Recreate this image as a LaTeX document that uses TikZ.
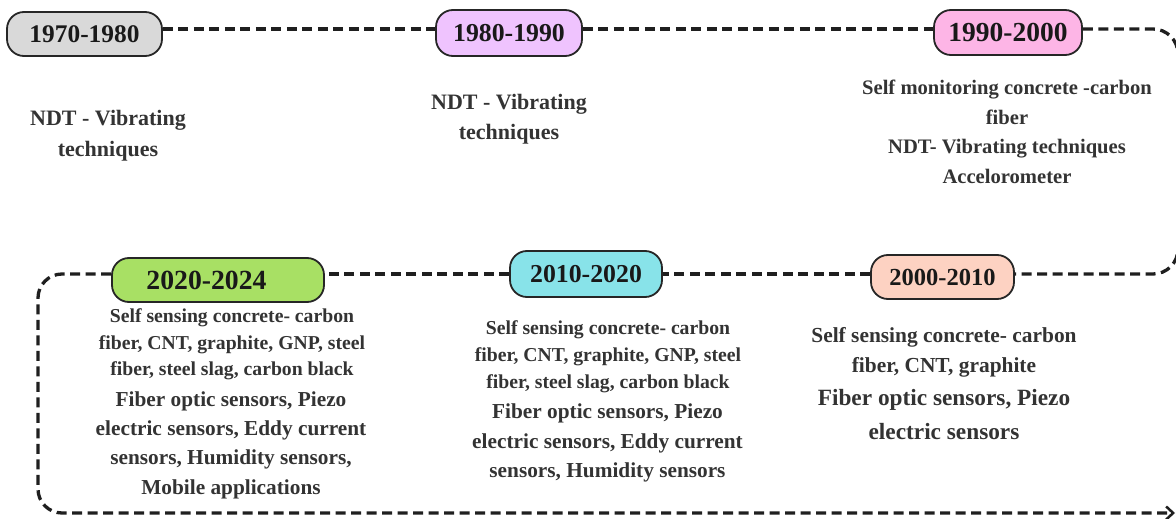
\documentclass[tikz,border=0pt]{standalone}
\usepackage{fontspec}
\setmainfont{Liberation Serif}
\usetikzlibrary{arrows.meta}
\definecolor{cgray}{HTML}{D9D9D9}
\definecolor{cviolet}{HTML}{EFC3FE}
\definecolor{cpink}{HTML}{FDB5E6}
\definecolor{cgreen}{HTML}{A8E064}
\definecolor{ccyan}{HTML}{88E3E9}
\definecolor{csalmon}{HTML}{FDD2C2}
\newcommand\setfs[2]{\fontsize{#1}{#2}\selectfont}
\begin{document}
\begin{tikzpicture}[x=1pt,y=-1pt,
  yearbox/.style={draw=black!85, line width=1.8pt, rounded corners=17pt, inner sep=0pt, text=black!90},
  dashline/.style={draw=black!88, line width=3.3pt, dash pattern=on 10pt off 5.5pt},
  info/.style={align=center, text=black!80, inner sep=0pt}]
\useasboundingbox (0,0) rectangle (1176,519);

% year boxes
\node[yearbox, fill=cgray, minimum width=155pt, minimum height=44pt, font=\bfseries\setfs{25.4}{30}] (y1) at (84.5,34) {1970-1980};
\node[yearbox, fill=cviolet, minimum width=146pt, minimum height=46pt, font=\bfseries\setfs{25.8}{30}] (y2) at (509,33) {1980-1990};
\node[yearbox, fill=cpink, minimum width=148pt, minimum height=45pt, font=\bfseries\setfs{27.5}{30}] (y3) at (1008,32.5) {1990-2000};
\node[yearbox, fill=csalmon, minimum width=143pt, minimum height=44pt, font=\bfseries\setfs{24.5}{30}] (y4) at (942.5,277) {2000-2010};
\node[yearbox, fill=ccyan, minimum width=152pt, minimum height=46pt, font=\bfseries\setfs{25.8}{30}] (y5) at (586,274) {2010-2020};
\node[yearbox, fill=cgreen, minimum width=212pt, minimum height=44pt, font=\bfseries\setfs{27.7}{30}] (y6) at (218,280) {\hspace*{-23pt}2020-2024};

% descriptions
\node[info, font=\bfseries\setfs{22}{31}] (t1) at (108,135.5) {NDT - Vibrating\\techniques};
\node[info, font=\bfseries\setfs{22}{30}] (t2) at (509,119) {NDT - Vibrating\\techniques};
\node[info, font=\bfseries\setfs{20.6}{29.5}] (t3) at (1007,132) {Self monitoring concrete -carbon\\fiber\\NDT- Vibrating techniques\\Accelorometer};
\node[info, font=\bfseries\setfs{21.4}{30}] (t4a) at (944,352) {Self sensing concrete- carbon\\fiber, CNT, graphite};
\node[info, font=\bfseries\setfs{23.3}{34}] (t4b) at (944,415) {Fiber optic sensors, Piezo\\electric sensors};
\node[info, font=\bfseries\setfs{19.7}{27}] (t5a) at (608,357) {Self sensing concrete- carbon\\fiber, CNT, graphite, GNP, steel\\fiber, steel slag, carbon black};
\node[info, font=\bfseries\setfs{21.3}{29.5}] (t5b) at (607.5,443) {Fiber optic sensors, Piezo\\electric sensors, Eddy current\\sensors, Humidity sensors};
\node[info, font=\bfseries\setfs{19.7}{26.5}] (t6a) at (232,344.5) {Self sensing concrete- carbon\\fiber, CNT, graphite, GNP, steel\\fiber, steel slag, carbon black};
\node[info, font=\bfseries\setfs{21.3}{29.3}] (t6b) at (231,445) {Fiber optic sensors, Piezo\\electric sensors, Eddy current\\sensors, Humidity sensors,\\Mobile applications};

% guide coordinates
\coordinate (topy) at (0,29);
\coordinate (midy) at (0,274);
\coordinate (rx) at (1178,0);
\coordinate (lx) at (38,0);
\coordinate (endpt) at (1175,513);

% connectors
\draw[dashline] (y1.east |- topy) -- (y2.west |- topy);
\draw[dashline] (y2.east |- topy) -- (y3.west |- topy);
\draw[dashline, rounded corners=25pt] (y3.east |- topy) -- (rx |- topy) -- (rx |- midy) -- (y4.east |- midy);
\draw[dashline] (y4.west |- midy) -- (y5.east |- midy);
\draw[dashline] (y5.west |- midy) -- (y6.east |- midy);
\draw[dashline, rounded corners=24pt, -{Straight Barb[length=7pt,width=13pt,line width=2.5pt]}] (y6.west |- midy) -- (lx |- midy) -- (lx |- endpt) -- (endpt);
\end{tikzpicture}
\end{document}
